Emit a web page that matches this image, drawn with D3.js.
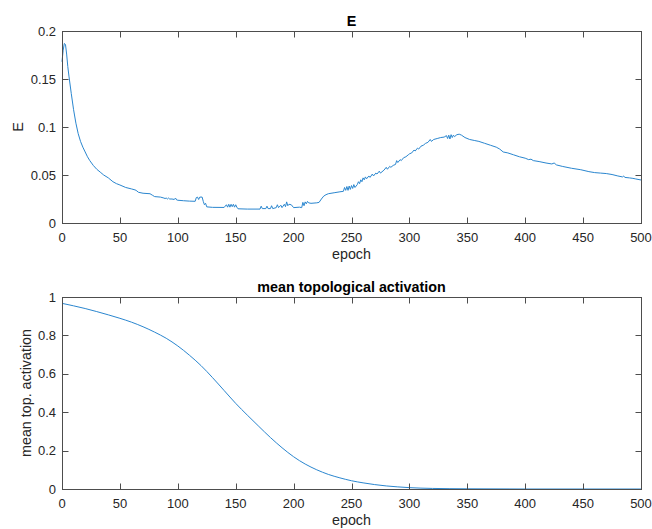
<!DOCTYPE html>
<html>
<head>
<meta charset="utf-8">
<script src="https://cdn.jsdelivr.net/npm/d3@7/dist/d3.min.js"></script>
<style>
  html, body { margin: 0; padding: 0; background: #fff; }
  svg { display: block; }
  text { font-family: "Liberation Sans", Arial, Helvetica, sans-serif; fill: #262626; }
</style>
</head>
<body>
<svg id="chart" width="652" height="529"></svg>
<script>
// ---------- data ----------
const xTicks = [0, 50, 100, 150, 200, 250, 300, 350, 400, 450, 500];
const eTicks = [0, 0.05, 0.1, 0.15, 0.2];
const eTickLabels = ["0", "0.05", "0.1", "0.15", "0.2"];
const aTicks = [0, 0.2, 0.4, 0.6, 0.8, 1];
const aTickLabels = ["0", "0.2", "0.4", "0.6", "0.8", "1"];

const eEpochs = [0,1,2,3,4,5,6,8,10,12,14,16,18,20,22,24,27,30,33,36,40,44,47,50,55,60,63,64,66,70,76,78,80,85,88,
  89,90,91,92,93,95,97,98,99,100,105,110,115,116,117,118,119,121,122,123,124,125,130,140,
  142,143,144,145,146,147,148,149,150,151,152,160,171,172,173,176,177,178,180,181,182,185,186,187,189,190,192,193,194,195,196,198,200,205,207,
  208,209,210,211,212,213,215,220,222,224,226,228,230,235,240,243,244,245,246,247,248,249,250,251,252,253,255,256,257,258,259,260,261,262,263,265,266,268,269,271,272,274,275,278,280,281,283,284,286,288,289,290,292,293,295,297,299,300,
  302,304,305,307,308,310,312,314,316,318,319,321,324,327,330,332,333,334,335,336,337,338,339,341,343,345,348,352,356,360,365,370,375,378,381,385,390,395,400,403,405,407,412,418,423,425,427,432,440,448,455,460,465,470,475,480,484,485,486,490,493,495,500];
const eValues = [0.168,0.180,0.187,0.186,0.176,0.163,0.153,0.135,0.118,0.104,0.093,0.085,0.079,0.074,0.069,0.065,0.060,0.056,0.053,0.050,0.047,0.043,0.041,0.0396,0.037,0.0355,0.0345,0.034,0.032,0.031,0.0305,0.029,0.0275,0.027,0.026,
  0.0255,0.026,0.025,0.026,0.025,0.025,0.0245,0.026,0.024,0.0237,0.0232,0.0228,0.0226,0.0265,0.027,0.0245,0.027,0.027,0.0225,0.019,0.0205,0.0168,0.0163,0.0162,
  0.019,0.0165,0.0195,0.0165,0.0195,0.017,0.0195,0.0165,0.019,0.0165,0.0148,0.0145,0.0145,0.0175,0.015,0.015,0.0175,0.015,0.015,0.018,0.015,0.016,0.019,0.016,0.0185,0.016,0.0195,0.017,0.022,0.018,0.0195,0.019,0.016,0.0165,0.016,
  0.0215,0.018,0.022,0.020,0.0225,0.021,0.0205,0.021,0.0215,0.025,0.028,0.0295,0.0305,0.0315,0.0325,0.033,0.037,0.034,0.038,0.034,0.0385,0.035,0.039,0.036,0.040,0.037,0.040,0.043,0.041,0.045,0.043,0.047,0.045,0.048,0.046,0.049,0.0475,0.051,0.049,0.052,0.051,0.054,0.052,0.055,0.058,0.056,0.059,0.058,0.060,0.061,0.065,0.063,0.066,0.065,0.068,0.069,0.071,0.072,
  0.073,0.076,0.075,0.078,0.077,0.080,0.081,0.083,0.084,0.087,0.085,0.087,0.088,0.089,0.0895,0.091,0.088,0.0915,0.0875,0.092,0.089,0.0915,0.090,0.092,0.0925,0.0915,0.089,0.087,0.086,0.085,0.083,0.081,0.079,0.077,0.074,0.073,0.071,0.069,0.0675,0.066,0.0665,0.065,0.064,0.0625,0.0615,0.0625,0.0605,0.059,0.057,0.0555,0.0535,0.0525,0.052,0.0515,0.0505,0.049,0.048,0.049,0.0475,0.047,0.0465,0.046,0.0448];

const aEpochs = [0,10,20,30,40,50,60,70,80,90,100,110,120,130,140,150,160,170,180,190,200,210,220,230,240,250,260,270,280,290,300,320,350,400,450,500];
const aValues = [0.967,0.954,0.940,0.924,0.907,0.889,0.869,0.845,0.817,0.785,0.745,0.697,0.643,0.580,0.513,0.446,0.385,0.326,0.268,0.215,0.168,0.130,0.100,0.076,0.058,0.043,0.032,0.023,0.016,0.011,0.007,0.003,0.001,0.0,0.0,0.0];

// ---------- layout ----------
const svg = d3.select("#chart");
const left = 62, right = 641;
const lineColor = "#2a86cf";
const boxColor = "#4d4d4d";
const tickLen = 6;

function panel(opts) {
  const { top, bottom, yDomain, yTicks, yTickLabels, xs, ys, curve, title, ylabel, ylabelX } = opts;
  const x = d3.scaleLinear().domain([0, 500]).range([left, right]);
  const y = d3.scaleLinear().domain(yDomain).range([bottom, top]);
  const g = svg.append("g");

  const pts = xs.map((d, i) => [d, ys[i]]);
  g.append("path")
    .datum(pts)
    .attr("fill", "none")
    .attr("stroke", lineColor)
    .attr("stroke-width", 1)
    .attr("d", d3.line().x(d => x(d[0])).y(d => y(d[1])).curve(curve));

  g.append("rect")
    .attr("x", left + 0.5).attr("y", top + 0.5)
    .attr("width", right - left).attr("height", bottom - top)
    .attr("fill", "none").attr("stroke", boxColor).attr("stroke-width", 1);

  xTicks.forEach(t => {
    const px = Math.round(x(t)) + 0.5;
    g.append("line").attr("x1", px).attr("x2", px).attr("y1", bottom + 0.5).attr("y2", bottom + 0.5 - tickLen)
      .attr("stroke", boxColor);
    g.append("line").attr("x1", px).attr("x2", px).attr("y1", top + 0.5).attr("y2", top + 0.5 + tickLen)
      .attr("stroke", boxColor);
    g.append("text").attr("x", x(t)).attr("y", bottom + 19)
      .attr("text-anchor", "middle").attr("font-size", 13).text(String(t));
  });

  yTicks.forEach((t, i) => {
    const py = Math.round(y(t)) + 0.5;
    g.append("line").attr("x1", left + 0.5).attr("x2", left + 0.5 + tickLen).attr("y1", py).attr("y2", py)
      .attr("stroke", boxColor);
    g.append("line").attr("x1", right + 0.5).attr("x2", right + 0.5 - tickLen).attr("y1", py).attr("y2", py)
      .attr("stroke", boxColor);
    g.append("text").attr("x", left - 6).attr("y", y(t)).attr("dy", "0.35em")
      .attr("text-anchor", "end").attr("font-size", 13).text(yTickLabels[i]);
  });

  g.append("text").attr("x", (left + right) / 2).attr("y", top - 5)
    .attr("text-anchor", "middle").attr("font-size", 14.3).attr("font-weight", "bold")
    .style("fill", "#000").text(title);

  g.append("text").attr("x", (left + right) / 2).attr("y", bottom + 36)
    .attr("text-anchor", "middle").attr("font-size", 14.3).text("epoch");

  g.append("text")
    .attr("transform", `translate(${ylabelX},${(top + bottom) / 2}) rotate(-90)`)
    .attr("text-anchor", "middle").attr("font-size", 14.3).text(ylabel);
}

panel({
  top: 31, bottom: 223, yDomain: [0, 0.2], yTicks: eTicks, yTickLabels: eTickLabels,
  xs: eEpochs, ys: eValues, curve: d3.curveLinear, title: "E", ylabel: "E", ylabelX: 22.5
});

panel({
  top: 297, bottom: 489, yDomain: [0, 1], yTicks: aTicks, yTickLabels: aTickLabels,
  xs: aEpochs, ys: aValues, curve: d3.curveMonotoneX, title: "mean topological activation",
  ylabel: "mean top. activation", ylabelX: 30.5
});
</script>
</body>
</html>
